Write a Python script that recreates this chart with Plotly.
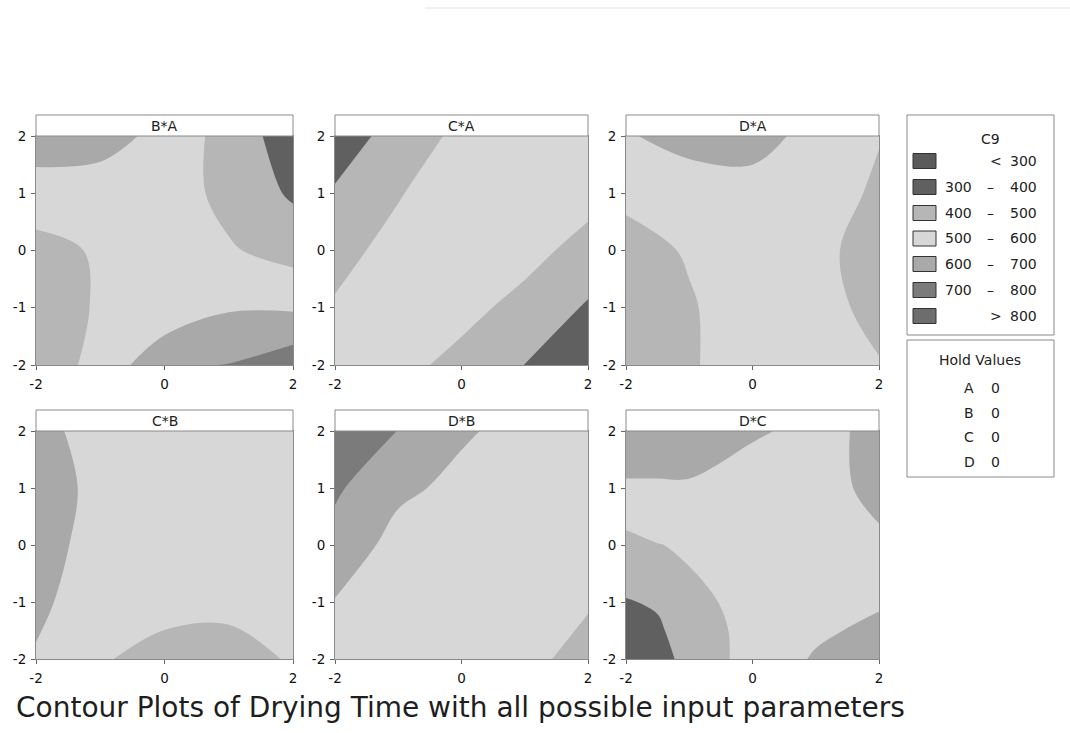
import plotly.graph_objects as go

W, H = 1070, 733

# Contour levels for the response C9 and the fill colour of each band
level_edges = [300, 400, 500, 600, 700, 800]
band_colors = ["#5a5a5a", "#606060", "#b6b6b6", "#d7d7d7", "#a9a9a9", "#7b7b7b", "#6d6d6d"]

# Coded factor settings on the panel axes
grid = [-2, -1, 0, 1, 2]
grid_fine = [-2, -1.5, -1, 0, 1, 2]

# Fitted drying time on the grid; rows run from the lowest y (first) to y = 2 (last)
z_BA = [[455, 524, 686, 703, 761],
        [440, 512, 520, 591, 588],
        [466, 512, 560, 510, 463],
        [560, 583, 553, 470, 386],
        [647, 614, 590, 448, 357]]
z_CA = [[572, 534, 466, 399, 331],
        [512, 575, 535, 463, 390],
        [463, 538, 560, 539, 458],
        [410, 492, 572, 583, 541],
        [349, 437, 526, 565, 585]]
z_DA = [[440, 490, 549, 550, 506],
        [430, 488, 568, 537, 470],
        [451, 512, 560, 531, 450],
        [530, 570, 575, 560, 480],
        [595, 620, 625, 579, 506]]
z_CB = [[595, 515, 444, 455, 511],
        [612, 569, 554, 530, 540],
        [645, 558, 560, 560, 555],
        [650, 573, 575, 570, 565],
        [640, 549, 580, 575, 570]]
z_DB = [[570, 555, 530, 523, 470],
        [595, 575, 545, 530, 508],
        [665, 565, 560, 550, 535],
        [715, 620, 576, 565, 550],
        [780, 698, 612, 570, 555]]
# D*C uses the finer grid (grid_fine on both axes)
z_DC = [[340, 370, 426, 542, 609, 650],
        [368, 388, 440, 537, 585, 620],
        [395, 409, 480, 524, 570, 590],
        [468, 497, 512, 560, 565, 588],
        [590, 590, 590, 560, 571, 620],
        [650, 650, 650, 610, 580, 617]]

panel_titles = ["B*A", "C*A", "D*A", "C*B", "D*B", "D*C"]
panel_z = [z_BA, z_CA, z_DA, z_CB, z_DB, z_DC]
panel_grid = [grid, grid, grid, grid, grid, grid_fine]

x_tick_vals = [-2, 0, 2]
x_tick_text = ["-2", "0", "2"]
y_tick_vals = [-2, -1, 0, 1, 2]
y_tick_text = ["-2", "-1", "0", "1", "2"]

hold_factors = ["A", "B", "C", "D"]
hold_values = [0, 0, 0, 0]

caption = "Contour Plots of Drying Time with all possible input parameters"

# Pixel layout of the panel grid
col_px = [(36, 293), (335, 588), (626, 879)]
row_px = [(136, 365), (431, 659)]
strip_h = 21


def px_x(x):
    return x / W


def px_y(y):
    return 1 - y / H


n_bands = len(band_colors)
colorscale = [[i / (n_bands - 1), c] for i, c in enumerate(band_colors)]

fig = go.Figure()
layout_axes = {}
shapes = []
annotations = []
font_family = "DejaVu Sans, Verdana, sans-serif"
axis_font = dict(family=font_family, size=13.5, color="#111")
frame_color = "#8a8a8a"

for k, (title, z, g) in enumerate(zip(panel_titles, panel_z, panel_grid)):
    r, c = divmod(k, 3)
    x0, x1 = col_px[c]
    y0, y1 = row_px[r]
    sfx = "" if k == 0 else str(k + 1)
    fig.add_trace(go.Contour(
        x=g, y=g, z=z,
        xaxis="x" + sfx, yaxis="y" + sfx,
        autocontour=False,
        contours=dict(start=level_edges[0], end=level_edges[-1], size=100,
                      coloring="fill", showlines=False),
        colorscale=colorscale, showscale=False,
        line=dict(width=0, smoothing=1.0),
        hoverinfo="skip",
    ))
    layout_axes["xaxis" + sfx] = dict(
        domain=[px_x(x0), px_x(x1)], range=[-2, 2], anchor="y" + sfx,
        tickvals=x_tick_vals, ticktext=x_tick_text, ticks="outside", ticklen=4, tickcolor="#666",
        ticklabelstandoff=3,
        showline=True, mirror=True, linecolor=frame_color, linewidth=1,
        showgrid=False, zeroline=False, tickfont=axis_font, automargin=False,
    )
    layout_axes["yaxis" + sfx] = dict(
        domain=[px_y(y1), px_y(y0)], range=[-2, 2], anchor="x" + sfx,
        tickvals=y_tick_vals, ticktext=y_tick_text, ticks="outside", ticklen=4, tickcolor="#666",
        ticklabelstandoff=2,
        showline=True, mirror=True, linecolor=frame_color, linewidth=1,
        showgrid=False, zeroline=False, tickfont=axis_font, automargin=False,
    )
    # Title strip above each panel
    shapes.append(dict(type="rect", xref="paper", yref="paper",
                       x0=px_x(x0), x1=px_x(x1), y0=px_y(y0), y1=px_y(y0 - strip_h),
                       line=dict(color=frame_color, width=1), fillcolor="white"))
    annotations.append(dict(text=title, xref="paper", yref="paper",
                            x=px_x((x0 + x1) / 2), y=px_y(y0 - strip_h / 2),
                            xanchor="center", yanchor="middle", showarrow=False,
                            font=dict(family=font_family, size=14, color="#222")))

# Legend box for the contour bands
leg_font = dict(family=font_family, size=14, color="#222")
shapes.append(dict(type="rect", xref="paper", yref="paper",
                   x0=px_x(907), x1=px_x(1054), y0=px_y(335), y1=px_y(115),
                   line=dict(color="#8a8a8a", width=1), fillcolor="white"))
annotations.append(dict(text="C9", xref="paper", yref="paper", x=px_x(990), y=px_y(139),
                        xanchor="center", yanchor="middle", showarrow=False, font=leg_font))
row_y = [161, 187, 213, 238.5, 264, 290, 316]
for i, color in enumerate(band_colors):
    yc = row_y[i]
    shapes.append(dict(type="rect", xref="paper", yref="paper",
                       x0=px_x(913), x1=px_x(936), y0=px_y(yc + 7.5), y1=px_y(yc - 7.5),
                       line=dict(color="#333", width=1), fillcolor=color))
    if i == 0:
        parts = [("<", 996, "center"), (str(level_edges[0]), 1039, "right")]
    elif i == n_bands - 1:
        parts = [(">", 996, "center"), (str(level_edges[-1]), 1039, "right")]
    else:
        parts = [(str(level_edges[i - 1]), 974, "right"), ("–", 990, "center"),
                 (str(level_edges[i]), 1039, "right")]
    for txt, xp, anc in parts:
        annotations.append(dict(text=txt, xref="paper", yref="paper", x=px_x(xp), y=px_y(yc),
                                xanchor=anc, yanchor="middle", showarrow=False, font=leg_font))

# Hold values box
shapes.append(dict(type="rect", xref="paper", yref="paper",
                   x0=px_x(907), x1=px_x(1054), y0=px_y(477), y1=px_y(340),
                   line=dict(color="#8a8a8a", width=1), fillcolor="white"))
annotations.append(dict(text="Hold Values", xref="paper", yref="paper", x=px_x(980), y=px_y(360),
                        xanchor="center", yanchor="middle", showarrow=False, font=leg_font))
hold_y = [388, 413, 437, 462]
for f, v, yc in zip(hold_factors, hold_values, hold_y):
    annotations.append(dict(text=f, xref="paper", yref="paper", x=px_x(969), y=px_y(yc),
                            xanchor="center", yanchor="middle", showarrow=False, font=leg_font))
    annotations.append(dict(text=str(v), xref="paper", yref="paper", x=px_x(995), y=px_y(yc),
                            xanchor="center", yanchor="middle", showarrow=False, font=leg_font))

# Caption under the panels
annotations.append(dict(text=caption, xref="paper", yref="paper", x=px_x(14), y=px_y(707),
                        xanchor="left", yanchor="middle", showarrow=False,
                        font=dict(family=font_family, size=28, color="#1e1e1e")))

# Faint rule across the top of the sheet
shapes.append(dict(type="line", xref="paper", yref="paper",
                   x0=px_x(425), x1=px_x(1070), y0=px_y(8), y1=px_y(8),
                   line=dict(color="#e2e2e2", width=1)))

fig.update_layout(
    width=W, height=H,
    margin=dict(l=0, r=0, t=0, b=0, autoexpand=False),
    paper_bgcolor="white", plot_bgcolor="white",
    showlegend=False,
    shapes=shapes, annotations=annotations,
    **layout_axes,
)

fig.write_html("out.html")
